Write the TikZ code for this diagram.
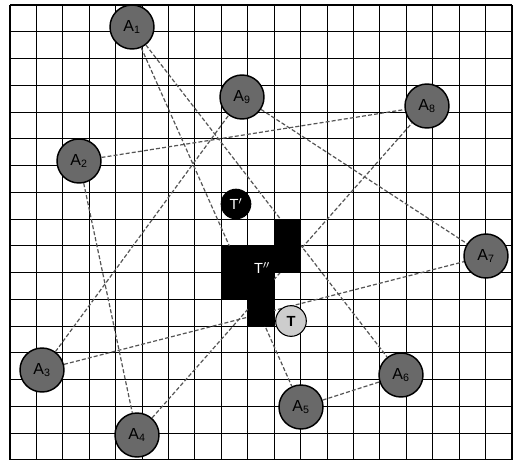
\documentclass[tikz,border=0pt]{standalone}
\usepackage{fontspec}
\setmainfont{Liberation Sans}
\usetikzlibrary{positioning}
\definecolor{anchorgray}{RGB}{105,105,105}
\definecolor{targetgray}{RGB}{205,205,205}
\definecolor{linkgray}{RGB}{85,85,85}
\newcommand{\cellw}{26.42}
\newcommand{\cellh}{26.76}

\begin{document}
\begin{tikzpicture}[x=0.75pt,y=-0.75pt]
\tikzstyle{gridline}=[black,line width=0.8pt]
\tikzstyle{anchornode}=[circle,draw=black,line width=1.1pt,fill=anchorgray,minimum size=33pt,inner sep=0pt,font=\fontsize{12}{14}\selectfont]
\tikzstyle{targetnode}=[circle,draw=black,line width=0.8pt,fill=targetgray,minimum size=23pt,inner sep=0pt,font=\fontsize{11}{13}\selectfont\bfseries]
\tikzstyle{estnode}=[circle,fill=black,text=white,minimum size=23pt,inner sep=0pt,font=\fontsize{11}{13}\selectfont]
\tikzstyle{edgeline}=[linkgray,line width=0.9pt,dash pattern=on 3pt off 1.6pt]

\useasboundingbox (0,0) rectangle (514,462);
\fill[white] (0,0) rectangle (514,462);

% grid
\foreach \i in {0,...,19}
  \draw[gridline] ({10+\i*\cellw},5) -- ({10+\i*\cellw},460);
\foreach \j in {0,...,17}
  \draw[gridline] (10,{5+\j*\cellh}) -- (512,{5+\j*\cellh});

% anchors
\node[anchornode] (a1) at (132,27) {A\textsubscript{1}};
\node[anchornode] (a9) at (242,97) {A\textsubscript{9}};
\node[anchornode] (a8) at (427,106) {A\textsubscript{8}};
\node[anchornode] (a2) at (79,161) {A\textsubscript{2}};
\node[anchornode] (a7) at (486,256) {A\textsubscript{7}};
\node[anchornode] (a3) at (42,370) {A\textsubscript{3}};
\node[anchornode] (a4) at (137,435) {A\textsubscript{4}};
\node[anchornode] (a5) at (301,407) {A\textsubscript{5}};
\node[anchornode] (a6) at (401,375) {A\textsubscript{6}};

% triangles
\draw[edgeline] (a1)--(a5); \draw[edgeline] (a1)--(a6); \draw[edgeline] (a5)--(a6);
\draw[edgeline] (a2)--(a8); \draw[edgeline] (a2)--(a4); \draw[edgeline] (a4)--(a8);
\draw[edgeline] (a3)--(a9); \draw[edgeline] (a3)--(a7); \draw[edgeline] (a9)--(a7);

% estimated area
\foreach \c/\r in {10/8,8/9,9/9,10/9,8/10,9/10,9/11}
  \fill[black] ({10+\c*\cellw},{5+\r*\cellh}) rectangle ++(\cellw,\cellh);
\node[text=white,font=\fontsize{11}{13}\selectfont] (t2) at (262,268) {T$''$};

\node[estnode] (t1) at (236,204) {T$'$};
\node[targetnode] (t0) at (291,321) {T};
\end{tikzpicture}
\end{document}
